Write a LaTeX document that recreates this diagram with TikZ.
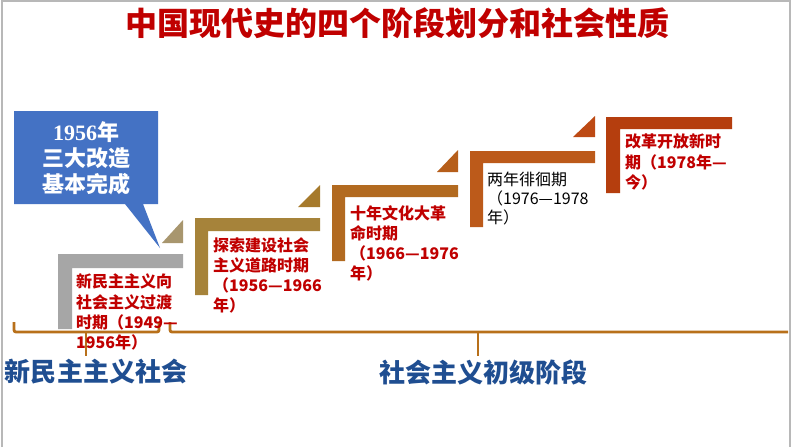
\documentclass[tikz,border=0pt]{standalone}
\usepackage{fontspec}
\setmainfont{Liberation Sans}
\newfontfamily\cjk{Noto Sans CJK SC}
\newfontfamily\serifdig{Liberation Serif}
\definecolor{titlered}{HTML}{C00000}
\definecolor{txtred}{HTML}{C00000}
\definecolor{labblue}{HTML}{1F4E91}
\definecolor{brkcol}{HTML}{B8701A}
\definecolor{callblue}{HTML}{4472C4}
\definecolor{sA}{HTML}{A6A6A6}
\definecolor{tA}{HTML}{A8966E}
\definecolor{sB}{HTML}{A6833A}
\definecolor{tB}{HTML}{A67A2C}
\definecolor{sC}{HTML}{B26A20}
\definecolor{tC}{HTML}{B65E1A}
\definecolor{sD}{HTML}{BC5A1A}
\definecolor{tD}{HTML}{BD4A14}
\definecolor{sE}{HTML}{B53E0E}
\definecolor{framegray}{HTML}{B8B8B8}
\tikzset{
  steptext/.style={anchor=north west, inner sep=0pt, align=left, text=txtred,
    font={\cjk\bfseries\fontsize{16}{20.3}\selectfont}},
  steptextplain/.style={anchor=north west, inner sep=0pt, align=left, text=black,
    font={\cjk\fontsize{16}{18.8}\selectfont}},
  brk/.style={draw=brkcol, line width=2.8pt, rounded corners=2pt},
  bottomlabel/.style={inner sep=0pt, text=labblue, font={\cjk\bfseries\fontsize{26}{30}\selectfont}},
}
\begin{document}
\begin{tikzpicture}[x=1pt,y=-1pt]
\useasboundingbox (0,0) rectangle (794,447);
\fill[white] (0,0) rectangle (794,447);
% frame
\draw[framegray, line width=1.2pt] (2,447) -- (2,1) -- (790,1) -- (790,447);

% title
\node[inner sep=0pt, text=titlered, font={\cjk\bfseries\fontsize{32}{36}\selectfont}] (title) at (397,23) {中国现代史的四个阶段划分和社会性质};

% steps
\fill[sA] (58,254) -- (183,254) -- (183,268) -- (72,268) -- (72,329) -- (58,329) -- cycle;
\fill[tA] (162,243) -- (183,243) -- (183,220) -- cycle;
\fill[sB] (195,218) -- (320,218) -- (320,231) -- (208,231) -- (208,295) -- (195,295) -- cycle;
\fill[tB] (298,207) -- (320,207) -- (320,185) -- cycle;
\fill[sC] (332,185) -- (458,185) -- (458,197) -- (345,197) -- (345,261) -- (332,261) -- cycle;
\fill[tC] (437,172) -- (458,172) -- (458,150) -- cycle;
\fill[sD] (470,151) -- (595,151) -- (595,163) -- (483,163) -- (483,227) -- (470,227) -- cycle;
\fill[tD] (573,137) -- (595,137) -- (595,116) -- cycle;
\fill[sE] (606,117) -- (732,117) -- (732,129) -- (620,129) -- (620,193) -- (606,193) -- cycle;

% callout
\fill[callblue] (14,111) -- (158,111) -- (158,204) -- (143,204) -- (160,248) -- (125,204) -- (14,204) -- cycle;
\node[inner sep=0pt, align=center, text=white, font={\cjk\bfseries\fontsize{22}{26}\selectfont}] (callout) at (86,158)
  {{\serifdig\bfseries 1956}年\\三大改造\\基本完成};

% brackets
\draw[brk] (14,322) -- (14,332) -- (159,332) -- (159,322);
\draw[brk] (86,332) -- (86,356);
\draw[brk] (170,322) -- (170,332) -- (788,332);
\draw[brk] (478,332) -- (478,356);

% step texts
\node[steptext] (t1) at (76,274) {新民主主义向\\社会主义过渡\\时期（1949—\\1956年）};
\node[steptext] (t2) at (213,237) {探索建设社会\\主义道路时期\\（1956—1966\\年）};
\node[steptext] (t3) at (350,205) {十年文化大革\\命时期\\（1966—1976\\年）};
\node[steptextplain] (t4) at (487,172) {两年徘徊期\\（1976—1978\\年）};
\node[steptext] (t5) at (625,134) {改革开放新时\\期（1978年—\\今）};

% bottom labels
\node[bottomlabel] (l1) at (96,372) {新民主主义社会};
\node[bottomlabel] (l2) at (483,372) {社会主义初级阶段};
\end{tikzpicture}
\end{document}
